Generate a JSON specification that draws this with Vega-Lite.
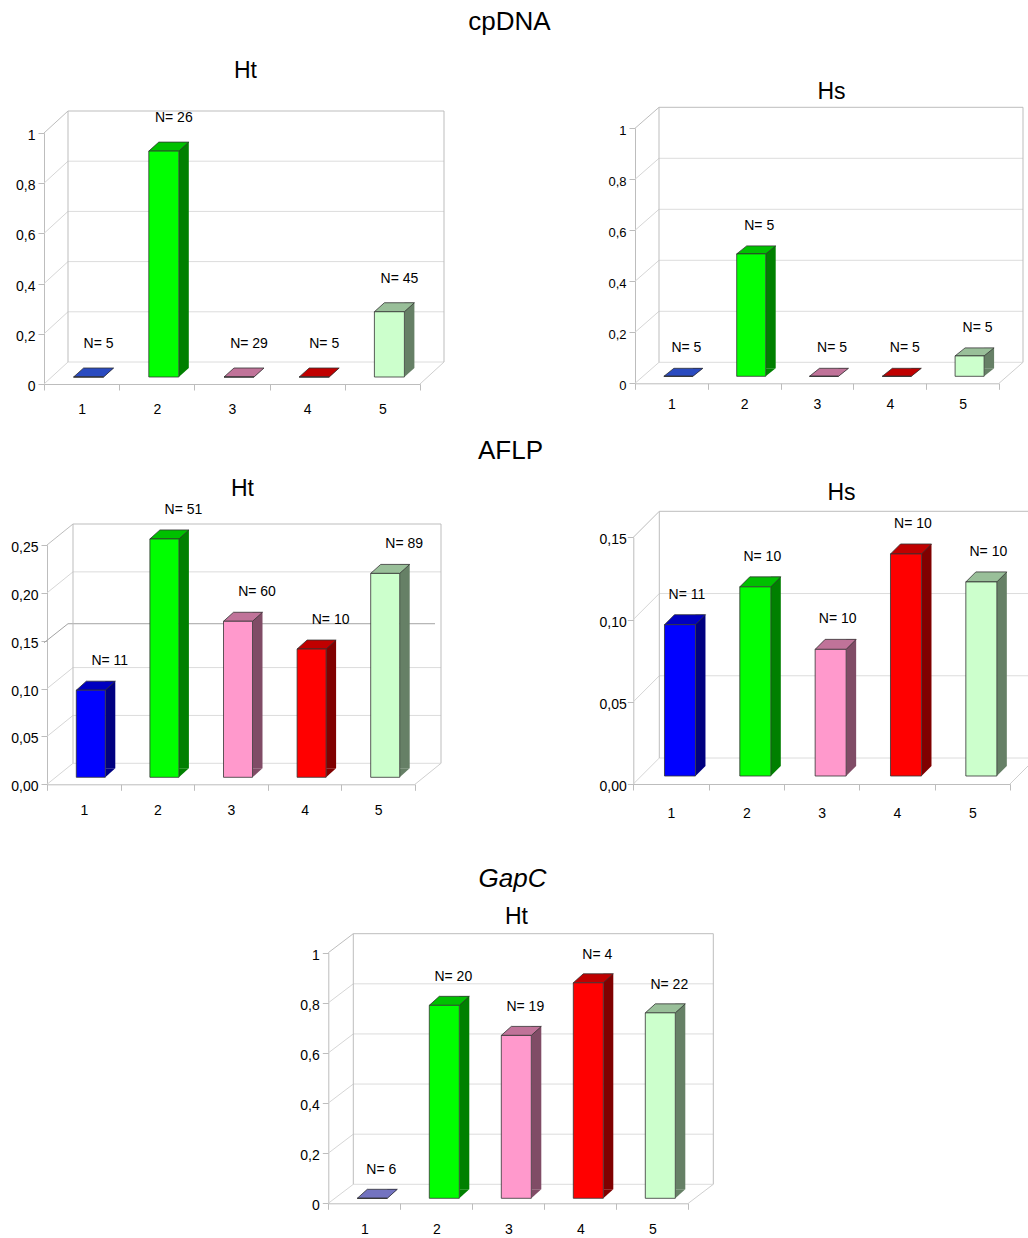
{
  "$schema": "https://vega.github.io/schema/vega-lite/v6.json",
  "width": 1028,
  "height": 1238,
  "padding": 0,
  "autosize": {"type": "none"},
  "background": "#ffffff",
  "config": {
    "view": {"stroke": null},
    "font": "Liberation Sans",
    "axis": {
      "grid": false, "domainColor": "#bdbdbd", "tickColor": "#bdbdbd", "tickSize": 6,
      "labelFontSize": 14, "labelColor": "#000000", "labelFont": "Liberation Sans",
      "titleFont": "Liberation Sans", "titleColor": "#000000", "titleFontWeight": "normal",
      "labelOverlap": false, "labelFlush": false
    },
    "axisX": {"tickBand": "extent", "labelAngle": 0, "titleAngle": 0, "titleAlign": "center", "titleBaseline": "middle", "titleFontSize": 26},
    "axisY": {"titleAngle": 0, "titleAlign": "center", "titleBaseline": "middle", "titleFontSize": 23, "labelOffset": 2.5, "labelPadding": 3}
  },
  "datasets": {
    "cp_ht": [
      {"g": "1", "v": 0, "n": 5}, {"g": "2", "v": 0.9, "n": 26}, {"g": "3", "v": 0, "n": 29},
      {"g": "4", "v": 0, "n": 5}, {"g": "5", "v": 0.26, "n": 45}
    ],
    "cp_hs": [
      {"g": "1", "v": 0, "n": 5}, {"g": "2", "v": 0.48, "n": 5}, {"g": "3", "v": 0, "n": 5},
      {"g": "4", "v": 0, "n": 5}, {"g": "5", "v": 0.08, "n": 5}
    ],
    "aflp_ht": [
      {"g": "1", "v": 0.091, "n": 11}, {"g": "2", "v": 0.249, "n": 51}, {"g": "3", "v": 0.163, "n": 60},
      {"g": "4", "v": 0.134, "n": 10}, {"g": "5", "v": 0.213, "n": 89}
    ],
    "aflp_hs": [
      {"g": "1", "v": 0.092, "n": 11}, {"g": "2", "v": 0.115, "n": 10}, {"g": "3", "v": 0.077, "n": 10},
      {"g": "4", "v": 0.135, "n": 10}, {"g": "5", "v": 0.118, "n": 10}
    ],
    "gapc_ht": [
      {"g": "1", "v": 0, "n": 6}, {"g": "2", "v": 0.77, "n": 20}, {"g": "3", "v": 0.65, "n": 19},
      {"g": "4", "v": 0.86, "n": 4}, {"g": "5", "v": 0.74, "n": 22}
    ],
    "ticks_1": [{"t": 0}, {"t": 0.2}, {"t": 0.4}, {"t": 0.6}, {"t": 0.8}, {"t": 1}],
    "ticks_25": [{"t": 0}, {"t": 0.05}, {"t": 0.1}, {"t": 0.15}, {"t": 0.2}, {"t": 0.25}],
    "ticks_15": [{"t": 0}, {"t": 0.05}, {"t": 0.1}, {"t": 0.15}],
    "one": [{}]
  },
  "resolve": {
    "scale": {"x": "independent", "y": "independent"},
    "axis": {"x": "independent", "y": "independent"}
  },
  "layer": [
    {
      "resolve": {"scale": {"fill": "independent"}},
      "layer": [
        {
          "data": {"name": "ticks_1"},
          "mark": {"type": "rule", "xOffset": 24, "x2Offset": 24, "yOffset": -22},
          "encoding": {
            "x": {"datum": "1", "type": "nominal", "bandPosition": 0,
              "scale": {"domain": ["1", "2", "3", "4", "5"], "range": [44, 420], "paddingInner": 0, "paddingOuter": 0},
              "axis": {"orient": "bottom", "offset": -854, "labelPadding": 12, "title": "cpDNA", "titleX": 509, "titleY": -363}},
            "x2": {"datum": "5", "bandPosition": 1},
            "y": {"field": "t", "type": "quantitative",
              "scale": {"domain": [0, 1], "range": [384, 133], "nice": false, "zero": false},
              "axis": {"orient": "left", "offset": -44, "values": [0, 0.2, 0.4, 0.6, 0.8, 1], "format": ".1~f",
                "labelExpr": "replace(datum.label, '.', ',')", "title": "Ht", "titleX": 201, "titleY": 70}},
            "stroke": {"condition": {"test": "datum.t == 1", "value": "#bdbdbd"}, "value": "#dcdcdc"}
          }
        },
        {
          "data": {"name": "ticks_1"},
          "mark": {"type": "rule", "x2Offset": 24, "y2Offset": -22},
          "encoding": {
            "x": {"datum": "1", "type": "nominal", "bandPosition": 0},
            "x2": {"datum": "1", "bandPosition": 0},
            "y": {"field": "t", "type": "quantitative"},
            "y2": {"field": "t"},
            "stroke": {"condition": {"test": "datum.t == 1", "value": "#bdbdbd"}, "value": "#d6d6d6"}
          }
        },
        {
          "data": {"name": "one"},
          "mark": {"type": "rule", "color": "#bdbdbd", "xOffset": 24, "yOffset": -22, "y2Offset": -22},
          "encoding": {
            "x": {"datum": "1", "type": "nominal", "bandPosition": 0},
            "y": {"datum": 0, "type": "quantitative"},
            "y2": {"datum": 1}
          }
        },
        {
          "data": {"name": "one"},
          "mark": {"type": "rule", "color": "#bdbdbd", "xOffset": 24, "yOffset": -22, "y2Offset": -22},
          "encoding": {
            "x": {"datum": "5", "type": "nominal", "bandPosition": 1},
            "y": {"datum": 0, "type": "quantitative"},
            "y2": {"datum": 1}
          }
        },
        {
          "data": {"name": "one"},
          "mark": {"type": "rule", "color": "#cfcfcf", "x2Offset": 24, "y2Offset": -22},
          "encoding": {
            "x": {"datum": "5", "type": "nominal", "bandPosition": 1},
            "x2": {"datum": "5", "bandPosition": 1},
            "y": {"datum": 0, "type": "quantitative"},
            "y2": {"datum": 0}
          }
        },
        {
          "data": {"name": "cp_ht"},
          "mark": {"type": "bar", "width": 10, "xOffset": 27, "yOffset": -16, "y2Offset": -16},
          "encoding": {
            "x": {"field": "g", "type": "nominal"},
            "y": {"field": "v", "type": "quantitative", "stack": null},
            "y2": {"datum": 0},
            "fill": {"field": "g", "type": "nominal", "legend": null,
              "scale": {"domain": ["1", "2", "3", "4", "5"], "range": ["#000080", "#008000", "#804c66", "#800000", "#668066"]}}
          }
        },
        {
          "data": {"name": "cp_ht"},
          "mark": {"type": "point", "shape": "M 0 -9 L 0 0 L 10 -9 Z", "size": 4, "filled": true, "opacity": 1, "strokeWidth": 0, "xOffset": 22, "yOffset": -7},
          "encoding": {
            "x": {"field": "g", "type": "nominal"},
            "y": {"datum": 0, "type": "quantitative"},
            "fill": {"field": "g", "type": "nominal", "legend": null,
              "scale": {"domain": ["1", "2", "3", "4", "5"], "range": ["#000080", "#008000", "#804c66", "#800000", "#668066"]}}
          }
        },
        {
          "data": {"name": "cp_ht"},
          "mark": {"type": "point", "shape": "M -15 0 L -5 -9 L 25 -9 L 15 0 Z", "size": 4, "filled": true, "opacity": 1, "stroke": "#333333", "strokeWidth": 0.8, "xOffset": 7, "yOffset": -7},
          "encoding": {
            "x": {"field": "g", "type": "nominal"},
            "y": {"field": "v", "type": "quantitative"},
            "fill": {"field": "g", "type": "nominal", "legend": null,
              "scale": {"domain": ["1", "2", "3", "4", "5"], "range": ["#2a4bc0", "#00c000", "#c07399", "#c00000", "#99bf99"]}}
          }
        },
        {
          "data": {"name": "cp_ht"},
          "mark": {"type": "bar", "width": 30, "xOffset": 7, "yOffset": -7, "y2Offset": -7, "stroke": "#333333", "strokeWidth": 0.8},
          "encoding": {
            "x": {"field": "g", "type": "nominal"},
            "y": {"field": "v", "type": "quantitative", "stack": null},
            "y2": {"datum": 0},
            "fill": {"field": "g", "type": "nominal", "legend": null,
              "scale": {"domain": ["1", "2", "3", "4", "5"], "range": ["#0000ff", "#00ff00", "#ff99cc", "#ff0000", "#ccffcc"]}}
          }
        },
        {
          "data": {"name": "cp_ht"},
          "transform": [{"calculate": "'N= ' + datum.n", "as": "lab"}],
          "mark": {"type": "text", "fontSize": 14, "dx": 17, "dy": -40, "color": "#000000", "align": "center", "baseline": "middle"},
          "encoding": {
            "x": {"field": "g", "type": "nominal"},
            "y": {"field": "v", "type": "quantitative"},
            "text": {"field": "lab"}
          }
        }
      ]
    },
    {
      "resolve": {"scale": {"fill": "independent"}},
      "layer": [
        {
          "data": {"name": "ticks_1"},
          "mark": {"type": "rule", "xOffset": 24, "x2Offset": 24, "yOffset": -21},
          "encoding": {
            "x": {"datum": "1", "type": "nominal", "bandPosition": 0,
              "scale": {"domain": ["1", "2", "3", "4", "5"], "range": [635, 999], "paddingInner": 0, "paddingOuter": 0},
              "axis": {"orient": "bottom", "offset": -854.7, "labelPadding": 8, "title": null}},
            "x2": {"datum": "5", "bandPosition": 1},
            "y": {"field": "t", "type": "quantitative",
              "scale": {"domain": [0, 1], "range": [383.3, 128.3], "nice": false, "zero": false},
              "axis": {"orient": "left", "offset": -635, "values": [0, 0.2, 0.4, 0.6, 0.8, 1], "format": ".1~f", "labelFontSize": 13,
                "labelExpr": "replace(datum.label, '.', ',')", "title": "Hs", "titleX": 196, "titleY": 91}},
            "stroke": {"condition": {"test": "datum.t == 1", "value": "#bdbdbd"}, "value": "#dcdcdc"}
          }
        },
        {
          "data": {"name": "ticks_1"},
          "mark": {"type": "rule", "x2Offset": 24, "y2Offset": -21},
          "encoding": {
            "x": {"datum": "1", "type": "nominal", "bandPosition": 0},
            "x2": {"datum": "1", "bandPosition": 0},
            "y": {"field": "t", "type": "quantitative"},
            "y2": {"field": "t"},
            "stroke": {"condition": {"test": "datum.t == 1", "value": "#bdbdbd"}, "value": "#d6d6d6"}
          }
        },
        {
          "data": {"name": "one"},
          "mark": {"type": "rule", "color": "#bdbdbd", "xOffset": 24, "yOffset": -21, "y2Offset": -21},
          "encoding": {
            "x": {"datum": "1", "type": "nominal", "bandPosition": 0},
            "y": {"datum": 0, "type": "quantitative"},
            "y2": {"datum": 1}
          }
        },
        {
          "data": {"name": "one"},
          "mark": {"type": "rule", "color": "#bdbdbd", "xOffset": 24, "yOffset": -21, "y2Offset": -21},
          "encoding": {
            "x": {"datum": "5", "type": "nominal", "bandPosition": 1},
            "y": {"datum": 0, "type": "quantitative"},
            "y2": {"datum": 1}
          }
        },
        {
          "data": {"name": "one"},
          "mark": {"type": "rule", "color": "#cfcfcf", "x2Offset": 24, "y2Offset": -21},
          "encoding": {
            "x": {"datum": "5", "type": "nominal", "bandPosition": 1},
            "x2": {"datum": "5", "bandPosition": 1},
            "y": {"datum": 0, "type": "quantitative"},
            "y2": {"datum": 0}
          }
        },
        {
          "data": {"name": "cp_hs"},
          "mark": {"type": "bar", "width": 10, "xOffset": 26.5, "yOffset": -15, "y2Offset": -15},
          "encoding": {
            "x": {"field": "g", "type": "nominal"},
            "y": {"field": "v", "type": "quantitative", "stack": null},
            "y2": {"datum": 0},
            "fill": {"field": "g", "type": "nominal", "legend": null,
              "scale": {"domain": ["1", "2", "3", "4", "5"], "range": ["#000080", "#008000", "#804c66", "#800000", "#668066"]}}
          }
        },
        {
          "data": {"name": "cp_hs"},
          "mark": {"type": "point", "shape": "M 0 -8 L 0 0 L 10 -8 Z", "size": 4, "filled": true, "opacity": 1, "strokeWidth": 0, "xOffset": 21.5, "yOffset": -7},
          "encoding": {
            "x": {"field": "g", "type": "nominal"},
            "y": {"datum": 0, "type": "quantitative"},
            "fill": {"field": "g", "type": "nominal", "legend": null,
              "scale": {"domain": ["1", "2", "3", "4", "5"], "range": ["#000080", "#008000", "#804c66", "#800000", "#668066"]}}
          }
        },
        {
          "data": {"name": "cp_hs"},
          "mark": {"type": "point", "shape": "M -14.5 0 L -4.5 -8 L 24.5 -8 L 14.5 0 Z", "size": 4, "filled": true, "opacity": 1, "stroke": "#333333", "strokeWidth": 0.8, "xOffset": 7, "yOffset": -7},
          "encoding": {
            "x": {"field": "g", "type": "nominal"},
            "y": {"field": "v", "type": "quantitative"},
            "fill": {"field": "g", "type": "nominal", "legend": null,
              "scale": {"domain": ["1", "2", "3", "4", "5"], "range": ["#2a4bc0", "#00c000", "#c07399", "#c00000", "#99bf99"]}}
          }
        },
        {
          "data": {"name": "cp_hs"},
          "mark": {"type": "bar", "width": 29, "xOffset": 7, "yOffset": -7, "y2Offset": -7, "stroke": "#333333", "strokeWidth": 0.8},
          "encoding": {
            "x": {"field": "g", "type": "nominal"},
            "y": {"field": "v", "type": "quantitative", "stack": null},
            "y2": {"datum": 0},
            "fill": {"field": "g", "type": "nominal", "legend": null,
              "scale": {"domain": ["1", "2", "3", "4", "5"], "range": ["#0000ff", "#00ff00", "#ff99cc", "#ff0000", "#ccffcc"]}}
          }
        },
        {
          "data": {"name": "cp_hs"},
          "transform": [{"calculate": "'N= ' + datum.n", "as": "lab"}],
          "mark": {"type": "text", "fontSize": 14, "dx": 15, "dy": -35, "color": "#000000", "align": "center", "baseline": "middle"},
          "encoding": {
            "x": {"field": "g", "type": "nominal"},
            "y": {"field": "v", "type": "quantitative"},
            "text": {"field": "lab"}
          }
        }
      ]
    },
    {
      "resolve": {"scale": {"fill": "independent"}},
      "layer": [
        {
          "data": {"name": "ticks_25"},
          "transform": [{"filter": "datum.t != 0.15"}],
          "mark": {"type": "rule", "xOffset": 26, "x2Offset": 26, "yOffset": -21},
          "encoding": {
            "x": {"datum": "1", "type": "nominal", "bandPosition": 0,
              "scale": {"domain": ["1", "2", "3", "4", "5"], "range": [47, 415], "paddingInner": 0, "paddingOuter": 0},
              "axis": {"orient": "bottom", "offset": -453.7, "labelPadding": 13, "title": "AFLP", "titleX": 510, "titleY": -333.5}},
            "x2": {"datum": "5", "bandPosition": 1},
            "y": {"field": "t", "type": "quantitative",
              "scale": {"domain": [0, 0.25], "range": [784.3, 545], "nice": false, "zero": false},
              "axis": {"orient": "left", "offset": -47, "values": [0, 0.05, 0.1, 0.15, 0.2, 0.25], "format": ".2f",
                "labelExpr": "replace(datum.label, '.', ',')", "title": "Ht", "titleX": 195, "titleY": 488}},
            "stroke": {"condition": {"test": "datum.t == 0.25", "value": "#bdbdbd"}, "value": "#dcdcdc"}
          }
        },
        {
          "data": {"name": "ticks_25"},
          "transform": [{"filter": "datum.t != 0.15"}],
          "mark": {"type": "rule", "x2Offset": 26, "y2Offset": -21},
          "encoding": {
            "x": {"datum": "1", "type": "nominal", "bandPosition": 0},
            "x2": {"datum": "1", "bandPosition": 0},
            "y": {"field": "t", "type": "quantitative"},
            "y2": {"field": "t"},
            "stroke": {"condition": {"test": "datum.t == 0.25", "value": "#bdbdbd"}, "value": "#d6d6d6"}
          }
        },
        {
          "data": {"name": "one"},
          "mark": {"type": "rule", "color": "#a3a3a3", "xOffset": -3, "yOffset": 2, "x2Offset": 21, "y2Offset": -17},
          "encoding": {
            "x": {"datum": "1", "type": "nominal", "bandPosition": 0},
            "x2": {"datum": "1", "bandPosition": 0},
            "y": {"datum": 0.15, "type": "quantitative"},
            "y2": {"datum": 0.15}
          }
        },
        {
          "data": {"name": "one"},
          "mark": {"type": "rule", "color": "#a3a3a3", "xOffset": 21, "x2Offset": 20, "yOffset": -17},
          "encoding": {
            "x": {"datum": "1", "type": "nominal", "bandPosition": 0},
            "x2": {"datum": "5", "bandPosition": 1},
            "y": {"datum": 0.15, "type": "quantitative"}
          }
        },
        {
          "data": {"name": "one"},
          "mark": {"type": "rule", "color": "#bdbdbd", "xOffset": 26, "yOffset": -21, "y2Offset": -21},
          "encoding": {
            "x": {"datum": "1", "type": "nominal", "bandPosition": 0},
            "y": {"datum": 0, "type": "quantitative"},
            "y2": {"datum": 0.25}
          }
        },
        {
          "data": {"name": "one"},
          "mark": {"type": "rule", "color": "#bdbdbd", "xOffset": 26, "yOffset": -21, "y2Offset": -21},
          "encoding": {
            "x": {"datum": "5", "type": "nominal", "bandPosition": 1},
            "y": {"datum": 0, "type": "quantitative"},
            "y2": {"datum": 0.25}
          }
        },
        {
          "data": {"name": "one"},
          "mark": {"type": "rule", "color": "#cfcfcf", "x2Offset": 26, "y2Offset": -21},
          "encoding": {
            "x": {"datum": "5", "type": "nominal", "bandPosition": 1},
            "x2": {"datum": "5", "bandPosition": 1},
            "y": {"datum": 0, "type": "quantitative"},
            "y2": {"datum": 0}
          }
        },
        {
          "data": {"name": "aflp_ht"},
          "mark": {"type": "bar", "width": 10, "xOffset": 26.5, "yOffset": -16, "y2Offset": -16},
          "encoding": {
            "x": {"field": "g", "type": "nominal"},
            "y": {"field": "v", "type": "quantitative", "stack": null},
            "y2": {"datum": 0},
            "fill": {"field": "g", "type": "nominal", "legend": null,
              "scale": {"domain": ["1", "2", "3", "4", "5"], "range": ["#000080", "#008000", "#804c66", "#800000", "#668066"]}}
          }
        },
        {
          "data": {"name": "aflp_ht"},
          "mark": {"type": "point", "shape": "M 0 -9 L 0 0 L 10 -9 Z", "size": 4, "filled": true, "opacity": 1, "strokeWidth": 0, "xOffset": 21.5, "yOffset": -7},
          "encoding": {
            "x": {"field": "g", "type": "nominal"},
            "y": {"datum": 0, "type": "quantitative"},
            "fill": {"field": "g", "type": "nominal", "legend": null,
              "scale": {"domain": ["1", "2", "3", "4", "5"], "range": ["#000080", "#008000", "#804c66", "#800000", "#668066"]}}
          }
        },
        {
          "data": {"name": "aflp_ht"},
          "mark": {"type": "point", "shape": "M -14.5 0 L -4.5 -9 L 24.5 -9 L 14.5 0 Z", "size": 4, "filled": true, "opacity": 1, "stroke": "#333333", "strokeWidth": 0.8, "xOffset": 7, "yOffset": -7},
          "encoding": {
            "x": {"field": "g", "type": "nominal"},
            "y": {"field": "v", "type": "quantitative"},
            "fill": {"field": "g", "type": "nominal", "legend": null,
              "scale": {"domain": ["1", "2", "3", "4", "5"], "range": ["#0000c0", "#00c000", "#c07399", "#c00000", "#99bf99"]}}
          }
        },
        {
          "data": {"name": "aflp_ht"},
          "mark": {"type": "bar", "width": 29, "xOffset": 7, "yOffset": -7, "y2Offset": -7, "stroke": "#333333", "strokeWidth": 0.8},
          "encoding": {
            "x": {"field": "g", "type": "nominal"},
            "y": {"field": "v", "type": "quantitative", "stack": null},
            "y2": {"datum": 0},
            "fill": {"field": "g", "type": "nominal", "legend": null,
              "scale": {"domain": ["1", "2", "3", "4", "5"], "range": ["#0000ff", "#00ff00", "#ff99cc", "#ff0000", "#ccffcc"]}}
          }
        },
        {
          "data": {"name": "aflp_ht"},
          "transform": [{"calculate": "'N= ' + datum.n", "as": "lab"}],
          "mark": {"type": "text", "fontSize": 14, "dx": 26, "dy": -36, "color": "#000000", "align": "center", "baseline": "middle"},
          "encoding": {
            "x": {"field": "g", "type": "nominal"},
            "y": {"field": "v", "type": "quantitative"},
            "text": {"field": "lab"}
          }
        }
      ]
    },
    {
      "resolve": {"scale": {"fill": "independent"}},
      "layer": [
        {
          "data": {"name": "ticks_15"},
          "mark": {"type": "rule", "xOffset": 26, "x2Offset": 26, "yOffset": -26},
          "encoding": {
            "x": {"datum": "1", "type": "nominal", "bandPosition": 0,
              "scale": {"domain": ["1", "2", "3", "4", "5"], "range": [633.3, 1010], "paddingInner": 0, "paddingOuter": 0},
              "axis": {"orient": "bottom", "offset": -454, "labelPadding": 16, "title": null}},
            "x2": {"datum": "5", "bandPosition": 1},
            "y": {"field": "t", "type": "quantitative",
              "scale": {"domain": [0, 0.15], "range": [784, 537.3], "nice": false, "zero": false},
              "axis": {"orient": "left", "offset": -633.3, "values": [0, 0.05, 0.1, 0.15], "format": ".2f", "labelPadding": 1,
                "labelExpr": "replace(datum.label, '.', ',')", "title": "Hs", "titleX": 207.7, "titleY": 492}},
            "stroke": {"condition": {"test": "datum.t == 0.15", "value": "#bdbdbd"}, "value": "#dcdcdc"}
          }
        },
        {
          "data": {"name": "ticks_15"},
          "mark": {"type": "rule", "x2Offset": 26, "y2Offset": -26},
          "encoding": {
            "x": {"datum": "1", "type": "nominal", "bandPosition": 0},
            "x2": {"datum": "1", "bandPosition": 0},
            "y": {"field": "t", "type": "quantitative"},
            "y2": {"field": "t"},
            "stroke": {"condition": {"test": "datum.t == 0.15", "value": "#bdbdbd"}, "value": "#d6d6d6"}
          }
        },
        {
          "data": {"name": "one"},
          "mark": {"type": "rule", "color": "#bdbdbd", "xOffset": 26, "yOffset": -26, "y2Offset": -26},
          "encoding": {
            "x": {"datum": "1", "type": "nominal", "bandPosition": 0},
            "y": {"datum": 0, "type": "quantitative"},
            "y2": {"datum": 0.15}
          }
        },
        {
          "data": {"name": "one"},
          "mark": {"type": "rule", "color": "#cfcfcf", "x2Offset": 26, "y2Offset": -26},
          "encoding": {
            "x": {"datum": "5", "type": "nominal", "bandPosition": 1},
            "x2": {"datum": "5", "bandPosition": 1},
            "y": {"datum": 0, "type": "quantitative"},
            "y2": {"datum": 0}
          }
        },
        {
          "data": {"name": "aflp_hs"},
          "mark": {"type": "bar", "width": 10, "xOffset": 29.5, "yOffset": -18, "y2Offset": -18},
          "encoding": {
            "x": {"field": "g", "type": "nominal"},
            "y": {"field": "v", "type": "quantitative", "stack": null},
            "y2": {"datum": 0},
            "fill": {"field": "g", "type": "nominal", "legend": null,
              "scale": {"domain": ["1", "2", "3", "4", "5"], "range": ["#000080", "#008000", "#804c66", "#800000", "#668066"]}}
          }
        },
        {
          "data": {"name": "aflp_hs"},
          "mark": {"type": "point", "shape": "M 0 -10 L 0 0 L 10 -10 Z", "size": 4, "filled": true, "opacity": 1, "strokeWidth": 0, "xOffset": 24.5, "yOffset": -8},
          "encoding": {
            "x": {"field": "g", "type": "nominal"},
            "y": {"datum": 0, "type": "quantitative"},
            "fill": {"field": "g", "type": "nominal", "legend": null,
              "scale": {"domain": ["1", "2", "3", "4", "5"], "range": ["#000080", "#008000", "#804c66", "#800000", "#668066"]}}
          }
        },
        {
          "data": {"name": "aflp_hs"},
          "mark": {"type": "point", "shape": "M -15.5 0 L -5.5 -10 L 25.5 -10 L 15.5 0 Z", "size": 4, "filled": true, "opacity": 1, "stroke": "#333333", "strokeWidth": 0.8, "xOffset": 9, "yOffset": -8},
          "encoding": {
            "x": {"field": "g", "type": "nominal"},
            "y": {"field": "v", "type": "quantitative"},
            "fill": {"field": "g", "type": "nominal", "legend": null,
              "scale": {"domain": ["1", "2", "3", "4", "5"], "range": ["#0000c0", "#00c000", "#c07399", "#c00000", "#99bf99"]}}
          }
        },
        {
          "data": {"name": "aflp_hs"},
          "mark": {"type": "bar", "width": 31, "xOffset": 9, "yOffset": -8, "y2Offset": -8, "stroke": "#333333", "strokeWidth": 0.8},
          "encoding": {
            "x": {"field": "g", "type": "nominal"},
            "y": {"field": "v", "type": "quantitative", "stack": null},
            "y2": {"datum": 0},
            "fill": {"field": "g", "type": "nominal", "legend": null,
              "scale": {"domain": ["1", "2", "3", "4", "5"], "range": ["#0000ff", "#00ff00", "#ff99cc", "#ff0000", "#ccffcc"]}}
          }
        },
        {
          "data": {"name": "aflp_hs"},
          "transform": [{"calculate": "'N= ' + datum.n", "as": "lab"}],
          "mark": {"type": "text", "fontSize": 14, "dx": 16, "dy": -38, "color": "#000000", "align": "center", "baseline": "middle"},
          "encoding": {
            "x": {"field": "g", "type": "nominal"},
            "y": {"field": "v", "type": "quantitative"},
            "text": {"field": "lab"}
          }
        }
      ]
    },
    {
      "resolve": {"scale": {"fill": "independent"}},
      "layer": [
        {
          "data": {"name": "ticks_1"},
          "mark": {"type": "rule", "xOffset": 25, "x2Offset": 25, "yOffset": -19},
          "encoding": {
            "x": {"datum": "1", "type": "nominal", "bandPosition": 0,
              "scale": {"domain": ["1", "2", "3", "4", "5"], "range": [328.3, 688.3], "paddingInner": 0, "paddingOuter": 0},
              "axis": {"orient": "bottom", "offset": -34.7, "labelPadding": 13, "title": "GapC", "titleFontStyle": "italic", "titleX": 512, "titleY": -324.8}},
            "x2": {"datum": "5", "bandPosition": 1},
            "y": {"field": "t", "type": "quantitative",
              "scale": {"domain": [0, 1], "range": [1203.3, 952.7], "nice": false, "zero": false},
              "axis": {"orient": "left", "offset": -328.3, "values": [0, 0.2, 0.4, 0.6, 0.8, 1], "format": ".1~f",
                "labelExpr": "replace(datum.label, '.', ',')", "title": "Ht", "titleX": 187.7, "titleY": 916}},
            "stroke": {"condition": {"test": "datum.t == 1", "value": "#bdbdbd"}, "value": "#dcdcdc"}
          }
        },
        {
          "data": {"name": "ticks_1"},
          "mark": {"type": "rule", "x2Offset": 25, "y2Offset": -19},
          "encoding": {
            "x": {"datum": "1", "type": "nominal", "bandPosition": 0},
            "x2": {"datum": "1", "bandPosition": 0},
            "y": {"field": "t", "type": "quantitative"},
            "y2": {"field": "t"},
            "stroke": {"condition": {"test": "datum.t == 1", "value": "#bdbdbd"}, "value": "#d6d6d6"}
          }
        },
        {
          "data": {"name": "one"},
          "mark": {"type": "rule", "color": "#bdbdbd", "xOffset": 25, "yOffset": -19, "y2Offset": -19},
          "encoding": {
            "x": {"datum": "1", "type": "nominal", "bandPosition": 0},
            "y": {"datum": 0, "type": "quantitative"},
            "y2": {"datum": 1}
          }
        },
        {
          "data": {"name": "one"},
          "mark": {"type": "rule", "color": "#bdbdbd", "xOffset": 25, "yOffset": -19, "y2Offset": -19},
          "encoding": {
            "x": {"datum": "5", "type": "nominal", "bandPosition": 1},
            "y": {"datum": 0, "type": "quantitative"},
            "y2": {"datum": 1}
          }
        },
        {
          "data": {"name": "one"},
          "mark": {"type": "rule", "color": "#cfcfcf", "x2Offset": 25, "y2Offset": -19},
          "encoding": {
            "x": {"datum": "5", "type": "nominal", "bandPosition": 1},
            "x2": {"datum": "5", "bandPosition": 1},
            "y": {"datum": 0, "type": "quantitative"},
            "y2": {"datum": 0}
          }
        },
        {
          "data": {"name": "gapc_ht"},
          "mark": {"type": "bar", "width": 10, "xOffset": 28, "yOffset": -14, "y2Offset": -14},
          "encoding": {
            "x": {"field": "g", "type": "nominal"},
            "y": {"field": "v", "type": "quantitative", "stack": null},
            "y2": {"datum": 0},
            "fill": {"field": "g", "type": "nominal", "legend": null,
              "scale": {"domain": ["1", "2", "3", "4", "5"], "range": ["#000080", "#008000", "#804c66", "#800000", "#668066"]}}
          }
        },
        {
          "data": {"name": "gapc_ht"},
          "mark": {"type": "point", "shape": "M 0 -9 L 0 0 L 10 -9 Z", "size": 4, "filled": true, "opacity": 1, "strokeWidth": 0, "xOffset": 23, "yOffset": -5},
          "encoding": {
            "x": {"field": "g", "type": "nominal"},
            "y": {"datum": 0, "type": "quantitative"},
            "fill": {"field": "g", "type": "nominal", "legend": null,
              "scale": {"domain": ["1", "2", "3", "4", "5"], "range": ["#000080", "#008000", "#804c66", "#800000", "#668066"]}}
          }
        },
        {
          "data": {"name": "gapc_ht"},
          "mark": {"type": "point", "shape": "M -15 0 L -5 -9 L 25 -9 L 15 0 Z", "size": 4, "filled": true, "opacity": 1, "stroke": "#333333", "strokeWidth": 0.8, "xOffset": 8, "yOffset": -5},
          "encoding": {
            "x": {"field": "g", "type": "nominal"},
            "y": {"field": "v", "type": "quantitative"},
            "fill": {"field": "g", "type": "nominal", "legend": null,
              "scale": {"domain": ["1", "2", "3", "4", "5"], "range": ["#7373c0", "#00c000", "#c07399", "#c00000", "#99bf99"]}}
          }
        },
        {
          "data": {"name": "gapc_ht"},
          "mark": {"type": "bar", "width": 30, "xOffset": 8, "yOffset": -5, "y2Offset": -5, "stroke": "#333333", "strokeWidth": 0.8},
          "encoding": {
            "x": {"field": "g", "type": "nominal"},
            "y": {"field": "v", "type": "quantitative", "stack": null},
            "y2": {"datum": 0},
            "fill": {"field": "g", "type": "nominal", "legend": null,
              "scale": {"domain": ["1", "2", "3", "4", "5"], "range": ["#0000ff", "#00ff00", "#ff99cc", "#ff0000", "#ccffcc"]}}
          }
        },
        {
          "data": {"name": "gapc_ht"},
          "transform": [{"calculate": "'N= ' + datum.n", "as": "lab"}],
          "mark": {"type": "text", "fontSize": 14, "dx": 17, "dy": -33, "color": "#000000", "align": "center", "baseline": "middle"},
          "encoding": {
            "x": {"field": "g", "type": "nominal"},
            "y": {"field": "v", "type": "quantitative"},
            "text": {"field": "lab"}
          }
        }
      ]
    }
  ]
}
